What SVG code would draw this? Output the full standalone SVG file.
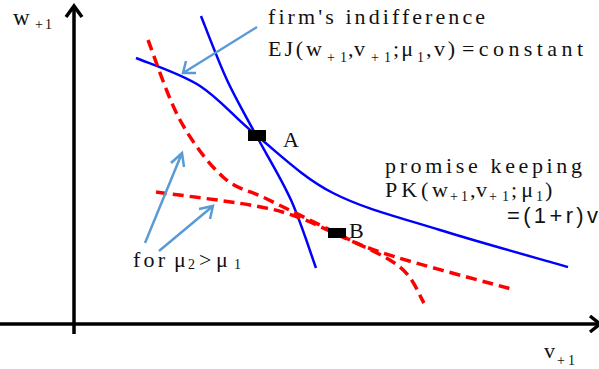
<svg xmlns="http://www.w3.org/2000/svg" width="599" height="369" viewBox="0 0 599 369">
<style>
.ax{stroke:#000;stroke-width:3.5;fill:none}
.blue{stroke:#0000ff;stroke-width:2.5;fill:none}
.red{stroke:#ff0000;stroke-width:3.5;fill:none;stroke-dasharray:11 6}
.arr{stroke:#5b9bd5;stroke-width:2.5;fill:none}
.t{font-family:"Liberation Serif","Times New Roman","DejaVu Serif",serif;font-size:22px;fill:#111}
.s{font-family:"Liberation Serif","Times New Roman","DejaVu Serif",serif;font-size:14px;fill:#111}
.sans{font-family:"Liberation Sans",Arial,sans-serif;font-size:22px;fill:#111}
.mk{fill:#000}
</style>
<g id="axes">
<path class="ax" d="M74,8 V334"/>
<path class="ax" d="M66,17 L74,6 L82,17"/>
<path class="ax" d="M0,324 H598"/>
<path class="ax" d="M590,316 L600,324 L590,332"/>
</g>
<g id="connectors">
<path id="firm-indiff" class="blue" d="M201,16 C205.3,26.7 217.8,60.2 227,80 C236.2,99.8 245.3,115 256,135 C266.7,155 281,177.8 291,200 C301,222.2 311.8,256.7 316,268"/>
<path id="pk" class="blue" d="M136,58 C146.7,62.7 180,73.2 200,86 C220,98.8 233.8,117.2 256,135 C278.2,152.8 302.3,177.2 333,193 C363.7,208.8 400.8,217.7 440,230 C479.2,242.3 546.7,260.8 568,267"/>
<path id="firm-indiff-2" class="red" d="M148,40 C153.3,53.3 167.5,97.2 180,120 C192.5,142.8 208.5,163.8 223,177 C237.5,190.2 247.5,189.3 267,199 C286.5,208.7 317.8,223.7 340,235 C362.2,246.3 386,255.7 400,267 C414,278.3 420,297 424,303"/>
<path id="pk-2" class="red" d="M156,192 C171.7,194.2 226,200.7 250,205 C274,209.3 278.3,210.2 300,218 C321.7,225.8 344.2,240 380,252 C415.8,264 492.5,283.7 515,290"/>
<path class="arr" d="M257,27 L183,73 M186,61 L183,73 L196,73"/>
<path class="arr" d="M145,243 L182,153 M171,163 L182,153 L184,167"/>
<path class="arr" d="M159,251 L213,206 M199,209 L213,206 L210,219"/>
</g>
<g id="A"><rect class="mk" x="248" y="130" width="18" height="11"/><text class="t" x="283" y="147">A</text></g>
<g id="B"><rect class="mk" x="328" y="228" width="18" height="10"/><text class="t" x="349" y="238">B</text></g>
<g id="label-w"><text class="t" x="13" y="25" style="font-size:23px">w</text><text class="s" x="35" y="29" textLength="17" lengthAdjust="spacing">+1</text></g>
<g id="label-v"><text class="t" x="544" y="358">v</text><text class="s" x="557" y="365" textLength="18" lengthAdjust="spacing">+1</text></g>
<g id="label-firm">
<text class="t" x="268" y="24" textLength="217" lengthAdjust="spacing">firm's indifference</text>
<text class="t" x="268" y="56" textLength="54" lengthAdjust="spacing">EJ(w</text>
<text class="s" x="327" y="62" textLength="20" lengthAdjust="spacing">+1</text>
<text class="t" x="348" y="56" textLength="17" lengthAdjust="spacing">,v</text>
<text class="s" x="371" y="62" textLength="20" lengthAdjust="spacing">+1</text>
<text class="t" x="393" y="56" textLength="20" lengthAdjust="spacing">;μ</text>
<text class="s" x="417" y="62">1</text>
<text class="t" x="426" y="56" textLength="29" lengthAdjust="spacing">,v)</text>
<text class="t" x="462" y="56" textLength="121" lengthAdjust="spacing">=constant</text>
</g>
<g id="label-pk">
<text class="t" x="385" y="173" textLength="197" lengthAdjust="spacing">promise keeping</text>
<text class="t" x="385" y="197" textLength="63" lengthAdjust="spacing">PK(w</text>
<text class="s" x="450" y="201" textLength="18" lengthAdjust="spacing">+1</text>
<text class="t" x="470" y="197" textLength="17" lengthAdjust="spacing">,v</text>
<text class="s" x="489" y="201" textLength="20" lengthAdjust="spacing">+1</text>
<text class="t" x="511" y="197" textLength="22" lengthAdjust="spacing">;μ</text>
<text class="s" x="536" y="201">1</text>
<text class="t" x="545" y="197">)</text>
<text class="sans" x="507" y="223" textLength="91" lengthAdjust="spacing">=(1+r)v</text>
</g>
<g id="label-mu">
<text class="t" x="133" y="267" textLength="32" lengthAdjust="spacing">for</text>
<text class="t" x="174" y="267">μ</text>
<text class="s" x="188" y="269">2</text>
<text class="t" x="199" y="267">&gt;</text>
<text class="t" x="216" y="267">μ</text>
<text class="s" x="234" y="269">1</text>
</g>
</svg>
